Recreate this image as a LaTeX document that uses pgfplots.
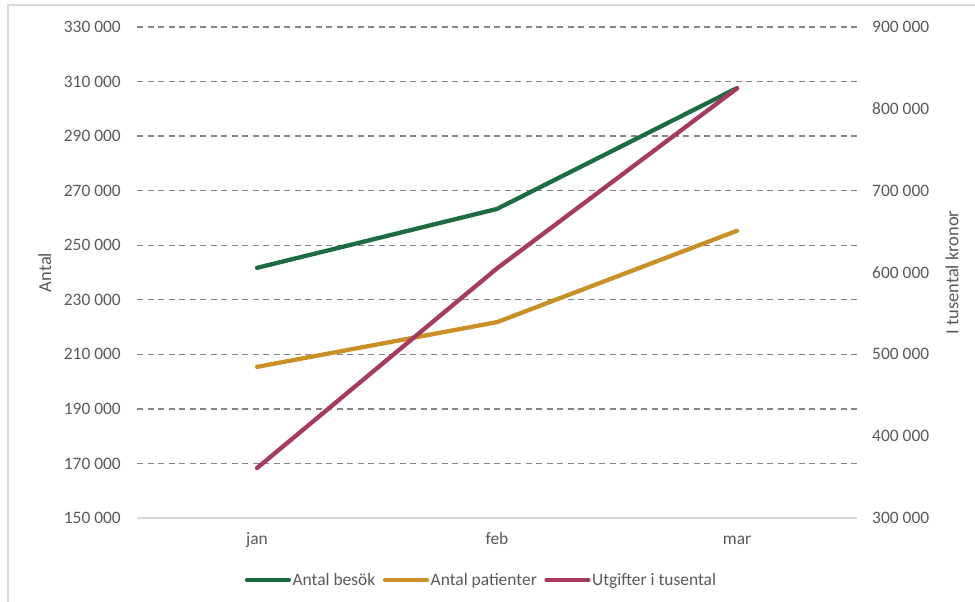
\documentclass[border=0pt]{standalone}
\usepackage{fontspec}
\setmainfont{Carlito}
\usepackage{pgfplots}
\pgfplotsset{compat=1.18}
\definecolor{cgreen}{HTML}{1D6B40}
\definecolor{corange}{HTML}{C99028}
\definecolor{cpurple}{HTML}{A63B61}
\definecolor{ctext}{HTML}{595959}
\definecolor{cgrid}{HTML}{858585}
\definecolor{cframe}{HTML}{D9D9D9}
\begin{document}
\begin{tikzpicture}[x=1bp,y=1bp]
\useasboundingbox (0,0) rectangle (975,602);
\draw[cframe, line width=1.5bp] (8,-2) -- (8,597) -- (980,597);
\pgfplotsset{
  every axis/.append style={
    scale only axis, width=720bp, height=491bp,
    at={(137bp,84bp)}, anchor=south west,
    xmin=-0.5, xmax=2.5,
    font=\fontsize{17.5}{20}\selectfont,
    tick label style={text=ctext},
    major tick length=0pt,
    scaled y ticks=false,
    /pgf/number format/fixed,
    /pgf/number format/1000 sep={\ },
    /pgf/number format/assume math mode=true,
  },
}
\begin{axis}[
  ymin=150000, ymax=330000,
  ytick={170000,190000,...,330000},
  extra y ticks={150000},
  extra y tick style={grid=none},
  xtick={0,1,2}, xticklabels={jan,feb,mar},
  ymajorgrids,
  grid style={cgrid, line width=1.4bp, dash pattern=on 6bp off 4.5bp},
  axis x line*=bottom,
  axis y line*=left,
  x axis line style={cframe, line width=1.5bp, -},
  y axis line style={draw=none},
  yticklabel style={inner sep=0pt, anchor=east, xshift=-16bp},
  xticklabel style={inner sep=0pt, anchor=base, yshift=-27bp},
  ylabel={Antal},
  every axis y label/.style={at={(axis description cs:-0.128,0.5)}, anchor=center, rotate=90, text=ctext, font=\fontsize{18.5}{21}\selectfont},
  legend columns=3,
  legend style={at={(axis description cs:0.478,-0.126)}, anchor=center, draw=none, fill=none,
    text=ctext, font=\fontsize{17.5}{20}\selectfont,
    /tikz/every even column/.append style={column sep=6bp},
    nodes={inner sep=1.5bp}},
  legend image code/.code={\draw[#1] (0bp,0bp) -- (42bp,0bp);},
]
\addplot[cgreen, line width=4.3bp, line cap=round] coordinates {(0,241700) (1,263300) (2,307600)};
\addlegendentry{Antal besök}
\addplot[corange, line width=4.3bp, line cap=round] coordinates {(0,205400) (1,221800) (2,255300)};
\addlegendentry{Antal patienter}
\addlegendimage{cpurple, line width=4.3bp, line cap=round}
\addlegendentry{Utgifter i tusental}
\end{axis}
\begin{axis}[
  ymin=300000, ymax=900000,
  ytick={300000,400000,...,900000},
  axis y line*=right,
  hide x axis,
  y axis line style={draw=none},
  yticklabel style={inner sep=0pt, anchor=west, xshift=15bp},
  ylabel={I tusental kronor},
  every axis y label/.style={at={(axis description cs:1.132,0.5)}, anchor=center, rotate=90, text=ctext, font=\fontsize{18.5}{21}\selectfont},
]
\addplot[cpurple, line width=4.3bp, line cap=round] coordinates {(0,361000) (1,605000) (2,825000)};
\end{axis}
\end{tikzpicture}
\end{document}
